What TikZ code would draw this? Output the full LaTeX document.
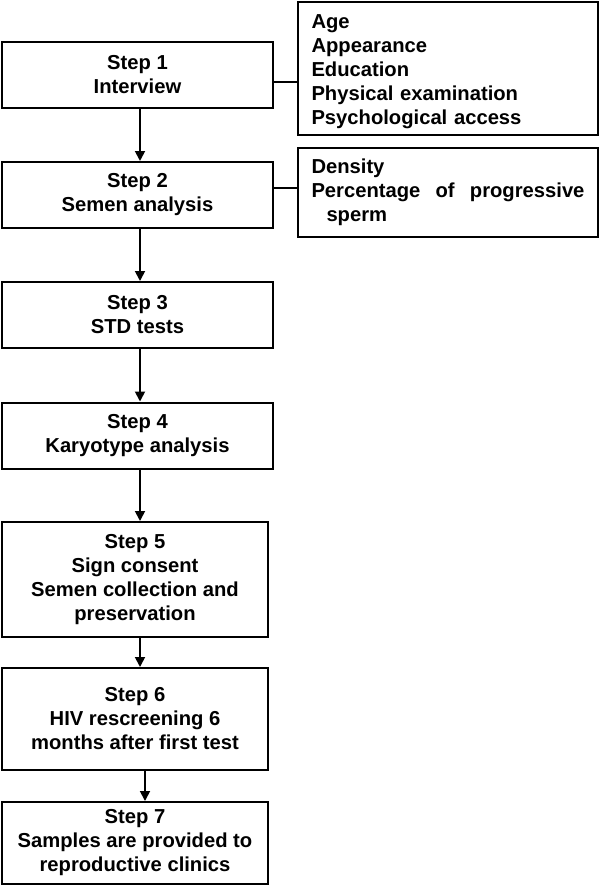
\documentclass[tikz,border=0pt]{standalone}
\usepackage{fontspec}
\setmainfont{Liberation Sans}
\usetikzlibrary{arrows.meta,calc}
\begin{document}
\begin{tikzpicture}[x=1pt,y=-1pt,
  every node/.style={font=\bfseries\fontsize{20.2}{24}\selectfont},
  stepbox/.style={draw,line width=2pt,minimum height=66pt,inner sep=0pt,align=center},
  sidebox/.style={draw,line width=2pt,text width=273pt,inner xsep=13.5pt,inner ysep=0pt,align=left,minimum width=300pt},
  arr/.style={line width=1.8pt,-{Triangle[width=10pt,length=10pt]}},
  link/.style={line width=1.8pt}]
\useasboundingbox[fill=white] (0,0) rectangle (600,886);
\node[stepbox,minimum width=271pt] (s1) at (137.5,75) {Step 1\\Interview};
\node[stepbox,minimum width=271pt] (s2) at (137.5,195) {Step 2\\Semen analysis};
\node[stepbox,minimum width=271pt] (s3) at (137.5,315) {Step 3\\STD tests};
\node[stepbox,minimum width=271pt] (s4) at (137.5,435.5) {Step 4\\Karyotype analysis};
\node[stepbox,minimum width=266pt,minimum height=115pt] (s5) at (135,579.5) {Step 5\\Sign consent\\Semen collection and\\preservation};
\node[stepbox,minimum width=266pt,minimum height=102pt] (s6) at (135,719) {Step 6\\HIV rescreening 6\\months after first test};
\node[stepbox,minimum width=266pt,minimum height=82pt] (s7) at (135,843) {Step 7\\Samples are provided to\\reproductive clinics};
\node[sidebox,minimum height=133pt] (r1) at (448,68.5) {\rule{0pt}{19.5pt}Age\\Appearance\\Education\\Physical examination\\Psychological access};
\node[sidebox,minimum height=89pt] (r2) at (448,192.5) {Density\\\makebox[273pt]{Percentage\hfill of\hfill progressive}\\\hspace*{15pt}sperm};
\draw[link] ([yshift=-7pt]s1.east) -- ([yshift=-7pt]s1.east -| r1.west);
\draw[link] ([yshift=7pt]s2.east) -- ([yshift=7pt]s2.east -| r2.west);
\draw[arr] ([xshift=2.5pt]s1.south) -- ([xshift=2.5pt]s1.south |- s2.north);
\draw[arr] ([xshift=2.5pt]s2.south) -- ([xshift=2.5pt]s2.south |- s3.north);
\draw[arr] ([xshift=2.5pt]s3.south) -- ([xshift=2.5pt]s3.south |- s4.north);
\draw[arr] ([xshift=2.5pt]s4.south) -- ([xshift=2.5pt]s4.south |- s5.north);
\draw[arr] ([xshift=5pt]s5.south) -- ([xshift=5pt]s5.south |- s6.north);
\draw[arr] ([xshift=10pt]s6.south) -- ([xshift=10pt]s6.south |- s7.north);
\end{tikzpicture}
\end{document}
